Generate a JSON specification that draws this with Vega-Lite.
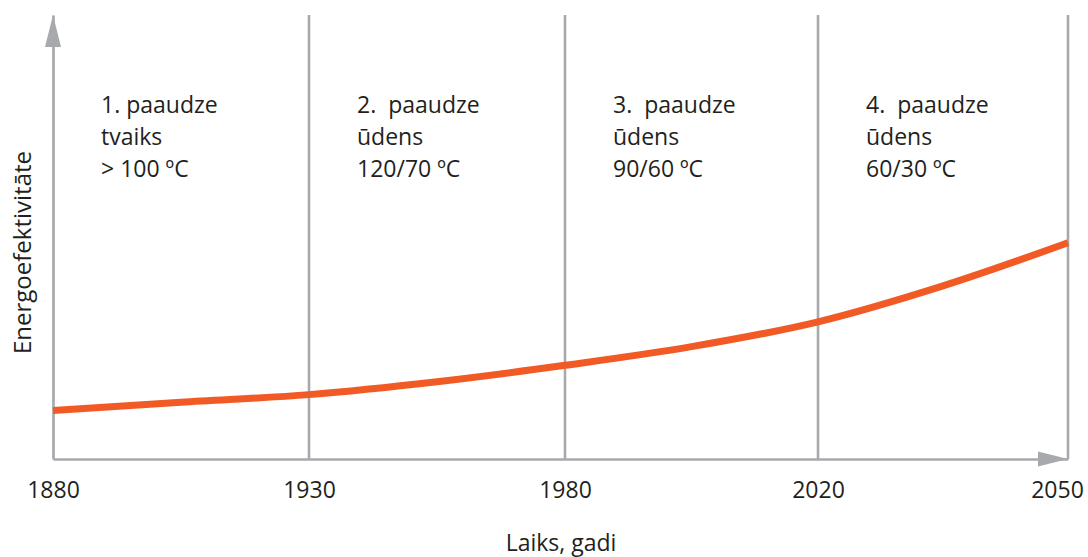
{
  "$schema": "https://vega.github.io/schema/vega-lite/v6.json",
  "width": 1015,
  "height": 444,
  "autosize": {"type": "none"},
  "padding": {"left": 53, "top": 15, "right": 20, "bottom": 98},
  "background": "white",
  "config": {"view": {"stroke": null}, "font": "Open Sans"},
  "layer": [
    {
      "data": {"values": [{"year": 1930}, {"year": 1980}, {"year": 2020}, {"year": 2050}]},
      "mark": {"type": "rule", "stroke": "#a7a9ac", "strokeWidth": 2.6},
      "encoding": {
        "x": {
          "field": "year",
          "type": "quantitative",
          "scale": {"domain": [1880, 1930, 1980, 2020, 2050], "range": [0, 256, 512, 765, 1015], "nice": false, "zero": false},
          "axis": {
            "title": "Laiks, gadi",
            "values": [1880, 1930, 1980, 2020, 2050],
            "format": "d",
            "ticks": false,
            "grid": false,
            "domainColor": "#a7a9ac",
            "domainWidth": 2.7,
            "labelFontSize": 23,
            "labelColor": "#231f20",
            "labelPadding": 20,
            "labelFlush": false,
            "labelOverlap": false,
            "labelBound": false,
            "labelOffset": {"condition": {"test": "datum.value == 2050", "value": -11}, "value": 0},
            "titleFontSize": 23,
            "titleFontWeight": "normal",
            "titleColor": "#231f20",
            "titlePadding": 30
          }
        }
      }
    },
    {
      "data": {
        "values": [
          {"year": 1880, "efficiency": 10.9},
          {"year": 1905, "efficiency": 12.8},
          {"year": 1930, "efficiency": 14.5},
          {"year": 1955, "efficiency": 17.4},
          {"year": 1980, "efficiency": 21.1},
          {"year": 2000, "efficiency": 25.3},
          {"year": 2020, "efficiency": 30.9},
          {"year": 2035, "efficiency": 39.0},
          {"year": 2050, "efficiency": 48.7}
        ]
      },
      "mark": {"type": "line", "color": "#f15a24", "strokeWidth": 7, "interpolate": "monotone", "strokeCap": "butt"},
      "encoding": {
        "x": {"field": "year", "type": "quantitative"},
        "y": {
          "field": "efficiency",
          "type": "quantitative",
          "scale": {"domain": [0, 100], "nice": false, "zero": true},
          "axis": {
            "title": "Energoefektivitāte",
            "labels": false,
            "ticks": false,
            "grid": false,
            "domainColor": "#a7a9ac",
            "domainWidth": 2.7,
            "titleFontSize": 24,
            "titleFontWeight": "normal",
            "titleColor": "#231f20",
            "titlePadding": 18,
            "titleY": 237
          }
        }
      }
    },
    {
      "data": {"values": [{"axis": "y"}]},
      "mark": {"type": "point", "shape": "M0,0L0.5,2L-0.5,2Z", "size": 1024, "filled": true, "color": "#a7a9ac", "opacity": 1, "strokeWidth": 0},
      "encoding": {"x": {"datum": 1880}, "y": {"datum": 100}}
    },
    {
      "data": {"values": [{"axis": "x"}]},
      "mark": {"type": "point", "shape": "M0,0L-2,-0.5L-2,0.5Z", "size": 900, "filled": true, "color": "#a7a9ac", "opacity": 1, "strokeWidth": 0},
      "encoding": {"x": {"datum": 2050}, "y": {"datum": 0}}
    },
    {
      "data": {
        "values": [
          {"start": 1880, "label": "1. paaudze\ntvaiks\n> 100 ºC"},
          {"start": 1930, "label": "2. \u00a0paaudze\nūdens\n120/70 ºC"},
          {"start": 1980, "label": "3. \u00a0paaudze\nūdens\n90/60 ºC"},
          {"start": 2020, "label": "4. \u00a0paaudze\nūdens\n60/30 ºC"}
        ]
      },
      "mark": {"type": "text", "align": "left", "baseline": "alphabetic", "dx": 48, "fontSize": 23, "lineHeight": 32, "lineBreak": "\n", "color": "#231f20"},
      "encoding": {
        "x": {"field": "start", "type": "quantitative"},
        "y": {"datum": 78},
        "text": {"field": "label"}
      }
    }
  ]
}
